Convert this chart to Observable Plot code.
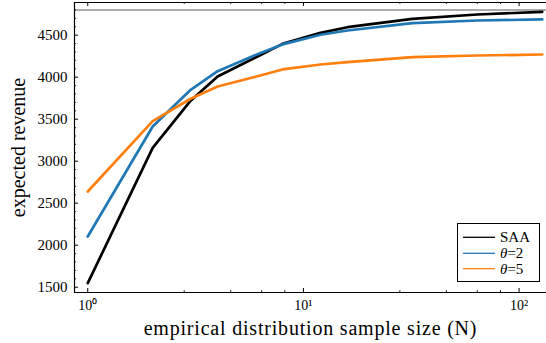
<!DOCTYPE html>
<html>
<head>
<meta charset="utf-8">
<script src="https://cdn.jsdelivr.net/npm/d3@7"></script>
<script src="https://cdn.jsdelivr.net/npm/@observablehq/plot@0.6"></script>
<style>
  html, body { margin: 0; padding: 0; background: #fff; }
  #wrap { position: relative; width: 546px; height: 343px; font-family: "Liberation Serif", serif; color: #000; }
  #legend { position: absolute; background: #fff; border: 1px solid #000; box-sizing: border-box; }
  #legend svg { position: absolute; left: 0; top: 0; }
</style>
</head>
<body>
<div id="wrap"></div>
<script>
// ---- data ----
const N = [1, 2, 3, 4, 6, 8, 12, 16, 32, 64, 128];
const saa    = [1548, 3159, 3720, 4008, 4235, 4397, 4528, 4595, 4695, 4746, 4778];
const theta2 = [2103, 3413, 3850, 4071, 4265, 4390, 4505, 4556, 4643, 4675, 4687];
const theta5 = [2639, 3476, 3743, 3889, 4005, 4092, 4151, 4179, 4238, 4258, 4270];
const seriesNames = ["SAA", "θ=2", "θ=5"];
const seriesColors = ["#000000", "#1f77b4", "#ff7f0e"];
const refValue = [4800];
const xMajor = [1, 10, 100];
const xMinor = [2.8, 4.6, 6.4, 8.2, 28, 46, 64, 82];
const yMajor = [1500, 2000, 2500, 3000, 3500, 4000, 4500];
const yMinor = [1600,1700,1800,1900,2100,2200,2300,2400,2600,2700,2800,2900,3100,3200,3300,3400,3600,3700,3800,3900,4100,4200,4300,4400,4600,4700,4800];
const xTickLabels = ["10⁰", "10¹", "10²"];
const xLabel = "empirical distribution sample size (N)";
const yLabel = "expected revenue";

const xDomain = [0.868, 134];
const yDomain = [1437, 4889];

const rows = [];
N.forEach((n, i) => {
  rows.push({N: n, v: saa[i], s: seriesNames[0]});
  rows.push({N: n, v: theta2[i], s: seriesNames[1]});
  rows.push({N: n, v: theta5[i], s: seriesNames[2]});
});

const W = 546, H = 343, mL = 74, mR = 0, mT = 2, mB = 51;
const fw = W - mL - mR, fh = H - mT - mB;

const chart = Plot.plot({
  width: W, height: H,
  marginLeft: mL, marginRight: mR, marginTop: mT, marginBottom: mB,
  style: {fontFamily: "Liberation Serif", fontSize: "15px", background: "white", color: "black"},
  x: {type: "log", domain: xDomain},
  y: {domain: yDomain},
  color: {domain: seriesNames, range: seriesColors},
  marks: [
    Plot.ruleY(refValue, {y: d => d, stroke: "#8f8f8f", strokeWidth: 1.5}),
    Plot.line(rows, {x: "N", y: "v", z: "s", stroke: "s", strokeWidth: 2.7}),
    // frame lines
    Plot.ruleX([xDomain[0]], {x: d => d, stroke: "black", strokeWidth: 1.2}),
    Plot.ruleY([yDomain[0]], {y: d => d, stroke: "black", strokeWidth: 1.2}),
    Plot.ruleY([yDomain[1]], {y: d => d, stroke: "black", strokeWidth: 1.2}),
    // ticks (inward)
    Plot.tickX(xMajor, {x: d => d, insetTop: fh - 4, stroke: "black"}),
    Plot.tickX(xMajor, {x: d => d, insetBottom: fh - 4, stroke: "black"}),
    Plot.tickX(xMinor, {x: d => d, insetTop: fh - 2, stroke: "black", strokeWidth: 0.8}),
    Plot.tickX(xMinor, {x: d => d, insetBottom: fh - 2, stroke: "black", strokeWidth: 0.8}),
    Plot.tickY(yMajor, {y: d => d, insetRight: fw - 4, stroke: "black"}),
    Plot.tickY(yMinor, {y: d => d, insetRight: fw - 2, stroke: "black", strokeWidth: 0.8}),
    // tick labels
    Plot.axisX({ticks: xMajor, tickSize: 0, tickPadding: 8, fontSize: 14, label: null,
      tickFormat: d => xTickLabels[xMajor.indexOf(d)]}),
    Plot.axisY({ticks: yMajor, tickSize: 0, tickPadding: 7, fontSize: 15, label: null,
      tickFormat: d => String(d)}),
    // axis titles
    Plot.text([yLabel], {text: d => d, frameAnchor: "left", rotate: -90, dx: -56,
      textAnchor: "middle", lineAnchor: "middle", fontSize: 20}),
    Plot.text([xLabel], {text: d => d, frameAnchor: "bottom", dy: 36,
      textAnchor: "middle", lineAnchor: "middle", fontSize: 20})
  ]
});

// widen the x axis title a little (Computer Modern-like spacing)
d3.select(chart).selectAll("text")
  .filter(function () { return this.textContent === xLabel; })
  .attr("letter-spacing", "0.8px");

const wrap = document.getElementById("wrap");
wrap.appendChild(chart);

// legend (inside plot, bottom-right)
const lg = document.createElement("div");
lg.id = "legend";
const lgLeft = 457, lgTop = 223, lgW = 83, lgH = 59;
lg.style.left = lgLeft + "px"; lg.style.top = lgTop + "px";
lg.style.width = lgW + "px"; lg.style.height = lgH + "px";
const ns = "http://www.w3.org/2000/svg";
const svg = document.createElementNS(ns, "svg");
svg.setAttribute("width", lgW); svg.setAttribute("height", lgH);
lg.appendChild(svg);
const rowY = [13.3, 29.3, 44.7];
seriesNames.forEach((name, i) => {
  const ln = document.createElementNS(ns, "line");
  ln.setAttribute("x1", 5); ln.setAttribute("x2", 37);
  ln.setAttribute("y1", rowY[i]); ln.setAttribute("y2", rowY[i]);
  ln.setAttribute("stroke", seriesColors[i]); ln.setAttribute("stroke-width", 1.3);
  svg.appendChild(ln);
  const t = document.createElementNS(ns, "text");
  t.setAttribute("x", 42); t.setAttribute("y", rowY[i]);
  t.setAttribute("dominant-baseline", "central");
  t.setAttribute("font-size", 15);
  t.setAttribute("font-family", "Liberation Serif");
  if (name.startsWith("θ")) {
    const a = document.createElementNS(ns, "tspan");
    a.setAttribute("font-style", "italic"); a.textContent = "θ";
    t.appendChild(a);
    t.appendChild(document.createTextNode(name.slice(1)));
  } else {
    t.textContent = name;
  }
  svg.appendChild(t);
});
wrap.appendChild(lg);
</script>
</body>
</html>
